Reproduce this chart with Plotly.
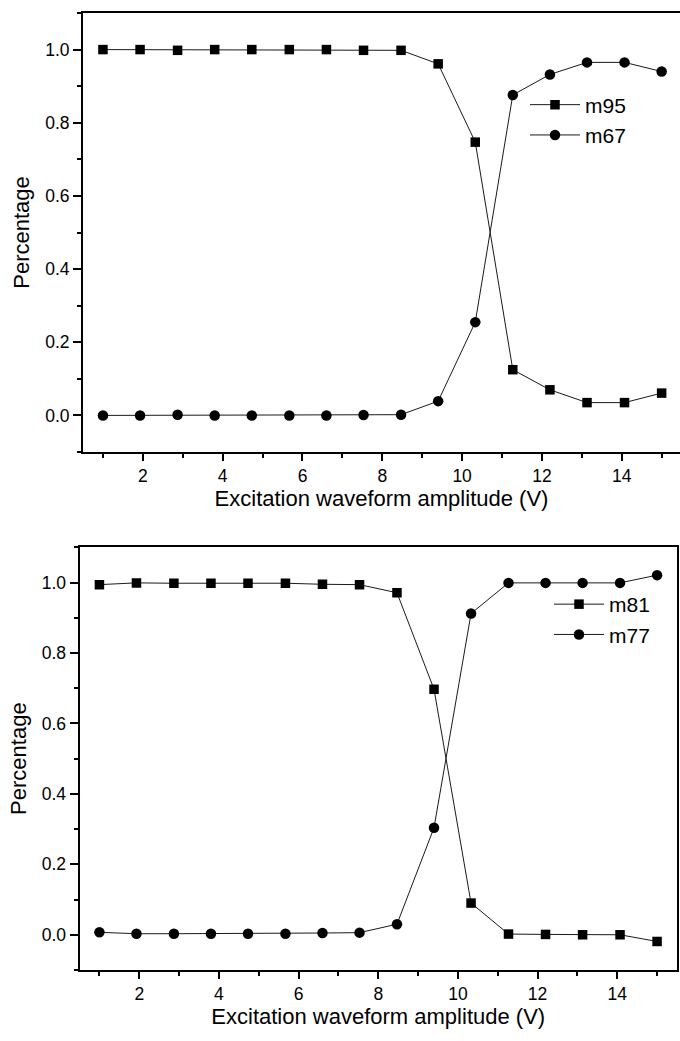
import plotly.graph_objects as go

# ---------------- data ----------------
amplitude = [1.0, 1.93, 2.87, 3.8, 4.73, 5.67, 6.6, 7.53, 8.47, 9.4, 10.33, 11.27, 12.2, 13.13, 14.07, 15.0]

m95 = [1.0, 1.0, 0.998, 1.0, 1.0, 1.0, 1.0, 0.998, 0.998, 0.961, 0.747, 0.125, 0.070, 0.035, 0.035, 0.061]
m67 = [0.0, 0.0, 0.002, 0.0, 0.0, 0.0, 0.0, 0.001, 0.002, 0.039, 0.255, 0.876, 0.932, 0.965, 0.965, 0.940]

m81 = [0.994, 0.999, 0.998, 0.998, 0.998, 0.998, 0.995, 0.994, 0.971, 0.697, 0.090, 0.002, 0.001, 0.0, 0.0, -0.019]
m77 = [0.007, 0.003, 0.003, 0.003, 0.003, 0.003, 0.005, 0.006, 0.030, 0.304, 0.912, 0.999, 0.999, 0.999, 0.999, 1.021]

x_title = "Excitation waveform amplitude (V)"
y_title = "Percentage"

FONT = "Liberation Sans, Arial, sans-serif"
W, H = 680, 1041

fig = go.Figure()

def add(x, y, name, symbol, size, xa, ya, legend):
    fig.add_trace(go.Scatter(
        x=x, y=y, name=name, mode="lines+markers",
        line=dict(color="#1a1a1a", width=1),
        marker=dict(symbol=symbol, size=size, color="black", line=dict(width=0)),
        xaxis=xa, yaxis=ya, legend=legend,
    ))

add(amplitude, m95, "m95", "square", 9.5, "x", "y", "legend")
add(amplitude, m67, "m67", "circle", 10.5, "x", "y", "legend")
add(amplitude, m81, "m81", "square", 9.5, "x2", "y2", "legend2")
add(amplitude, m77, "m77", "circle", 10.5, "x2", "y2", "legend2")

tickfont = dict(family=FONT, size=17.5, color="black")
titlefont = dict(family=FONT, size=22, color="black")

def xaxis(domain, rng, anchor, standoff):
    return dict(
        domain=domain, range=rng, anchor=anchor,
        showline=True, linewidth=2, linecolor="black", mirror=True,
        ticks="outside", ticklen=7, tickwidth=1.5, tickcolor="black",
        tick0=0, dtick=2, showgrid=False, zeroline=False,
        minor=dict(ticks="outside", dtick=1, ticklen=4, tickwidth=1.5, tickcolor="black", showgrid=False),
        tickfont=tickfont, title=dict(text=x_title, font=titlefont, standoff=standoff),
        automargin=False, fixedrange=True,
    )

def yaxis(domain, anchor, mirror):
    return dict(
        domain=domain, range=[-0.1, 1.1], anchor=anchor,
        showline=True, linewidth=2, linecolor="black", mirror=mirror,
        ticks="outside", ticklen=8, tickwidth=1.5, tickcolor="black",
        tick0=0, dtick=0.2, tickformat=".1f", showgrid=False, zeroline=False,
        minor=dict(ticks="outside", dtick=0.1, ticklen=4, tickwidth=1.5, tickcolor="black", showgrid=False),
        tickfont=tickfont, title=dict(text=y_title, font=titlefont, standoff=9),
        automargin=False, fixedrange=True,
    )

fig.update_layout(
    width=W, height=H,
    margin=dict(l=0, r=0, t=0, b=0),
    paper_bgcolor="white", plot_bgcolor="white",
    font=dict(family=FONT, color="black"),
    xaxis=xaxis([83 / W, 1.0], [0.5, 15.46], "y", 1),
    yaxis=yaxis([1 - 452 / H, 1 - 13 / H], "x", False),
    xaxis2=xaxis([79.5 / W, 677 / W], [0.5, 15.5], "y2", 0),
    yaxis2=yaxis([1 - 970 / H, 1 - 547.3 / H], "x2", True),
    legend=dict(x=525 / W, y=1 - 84.5 / H, xanchor="left", yanchor="top",
                bgcolor="rgba(0,0,0,0)", font=dict(family=FONT, size=21, color="black"),
                itemwidth=50, tracegroupgap=0),
    legend2=dict(x=549 / W, y=1 - 584 / H, xanchor="left", yanchor="top",
                 bgcolor="rgba(0,0,0,0)", font=dict(family=FONT, size=21, color="black"),
                 itemwidth=50, tracegroupgap=0),
    showlegend=True,
)

fig.write_html("out.html")
